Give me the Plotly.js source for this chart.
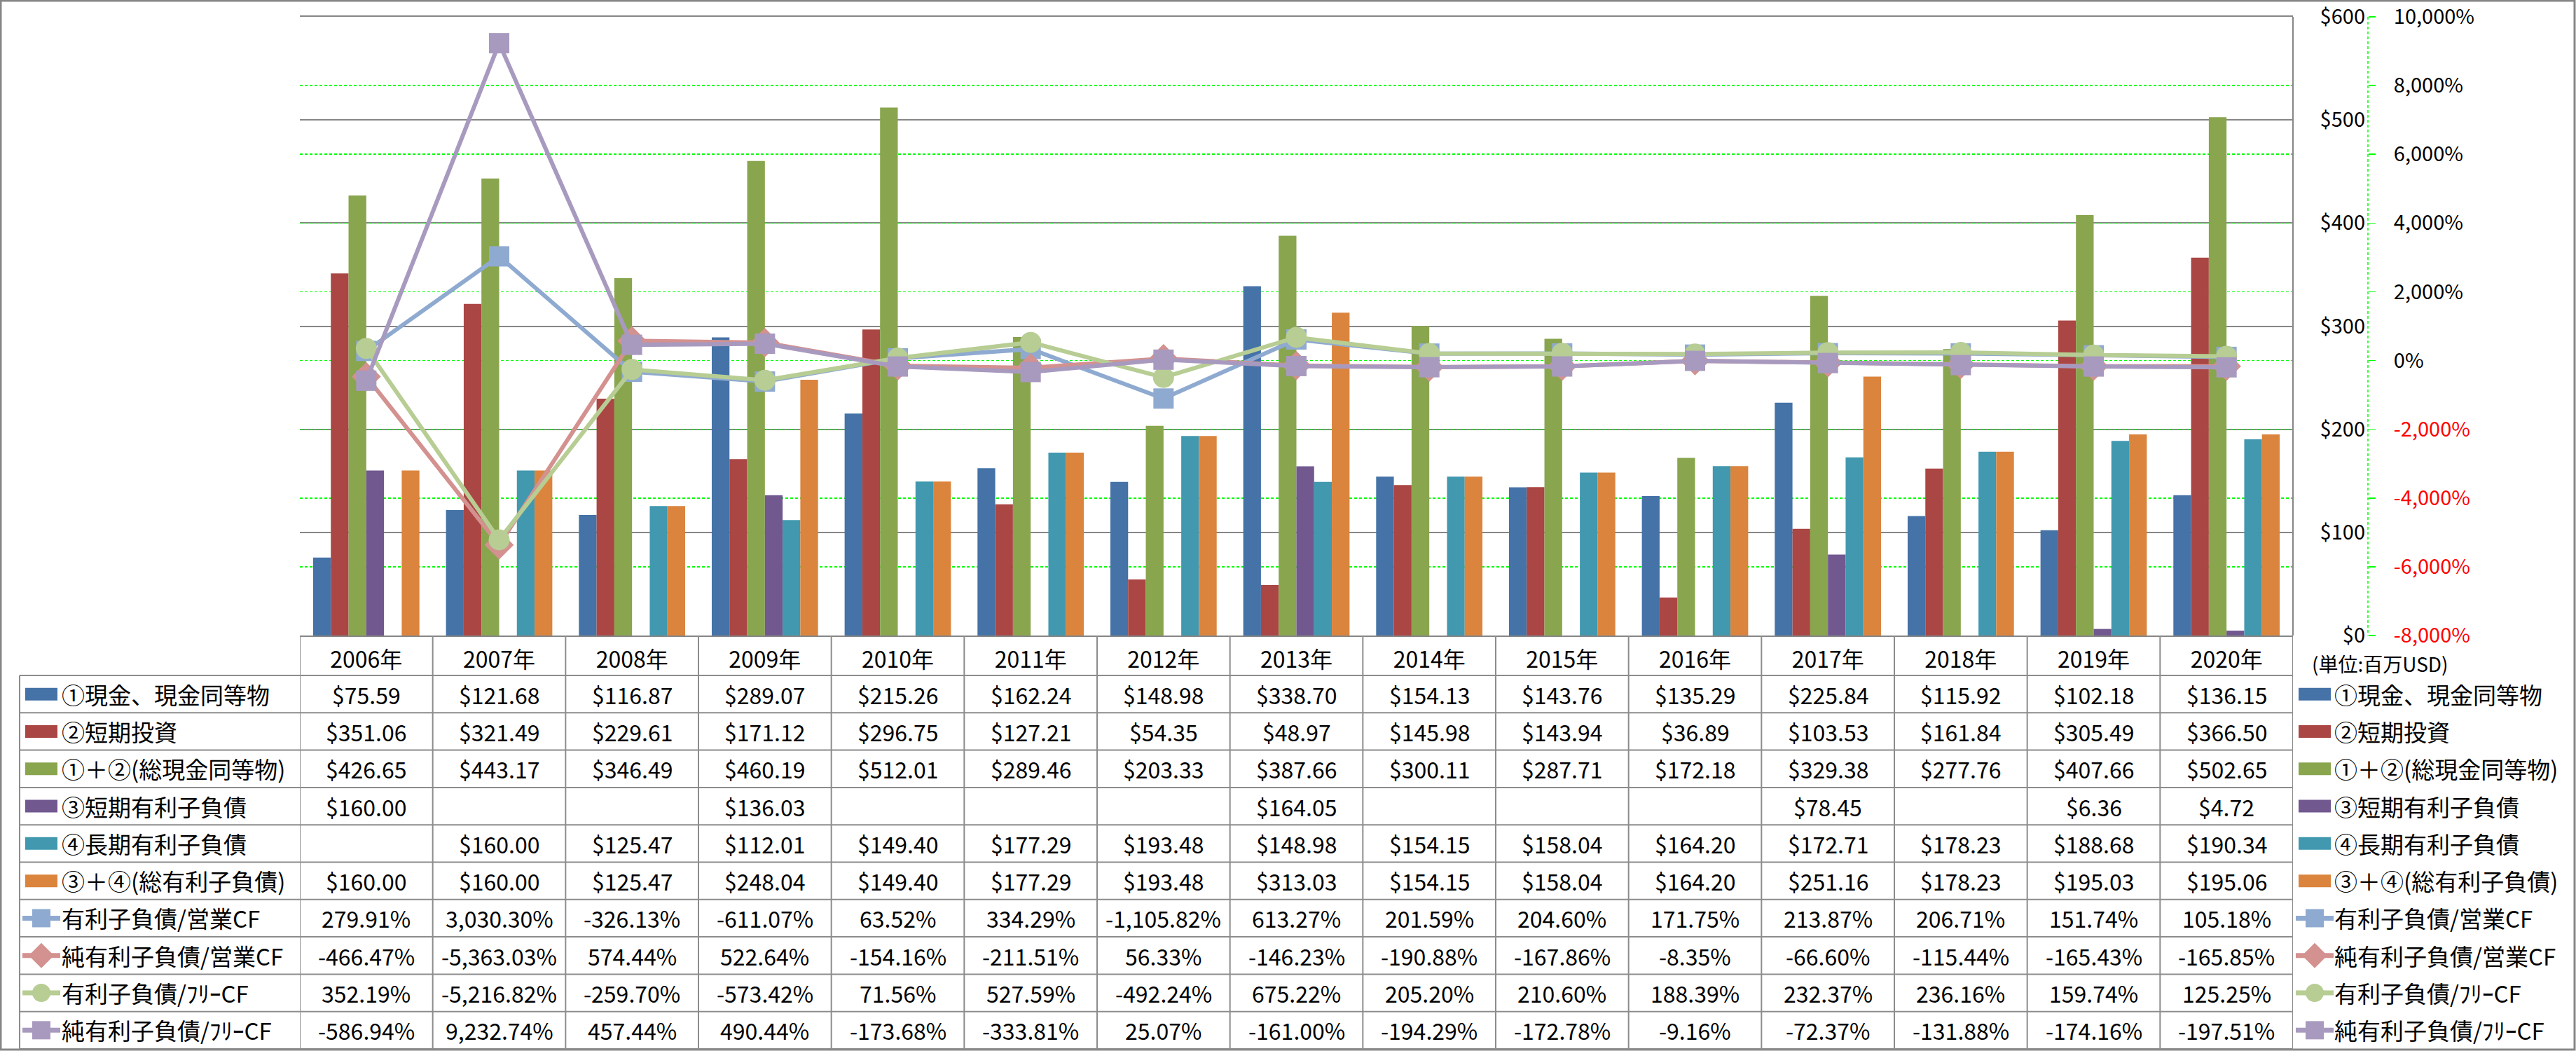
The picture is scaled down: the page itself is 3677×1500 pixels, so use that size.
<!DOCTYPE html>
<html><head><meta charset="utf-8">
<script src="https://cdn.plot.ly/plotly-3.0.1.min.js"></script>
<style>html,body{margin:0;padding:0;background:#fff}</style>
</head><body><div id="chart" style="width:3677px;height:1500px"></div>
<script>
// ---------------- DATA ----------------
const years = ['2006年','2007年','2008年','2009年','2010年','2011年','2012年','2013年','2014年','2015年','2016年','2017年','2018年','2019年','2020年'];
const cash       = [75.59,121.68,116.87,289.07,215.26,162.24,148.98,338.70,154.13,143.76,135.29,225.84,115.92,102.18,136.15];
const stInvest   = [351.06,321.49,229.61,171.12,296.75,127.21,54.35,48.97,145.98,143.94,36.89,103.53,161.84,305.49,366.50];
const totalCash  = [426.65,443.17,346.49,460.19,512.01,289.46,203.33,387.66,300.11,287.71,172.18,329.38,277.76,407.66,502.65];
const stDebt     = [160.00,null,null,136.03,null,null,null,164.05,null,null,null,78.45,null,6.36,4.72];
const ltDebt     = [null,160.00,125.47,112.01,149.40,177.29,193.48,148.98,154.15,158.04,164.20,172.71,178.23,188.68,190.34];
const totalDebt  = [160.00,160.00,125.47,248.04,149.40,177.29,193.48,313.03,154.15,158.04,164.20,251.16,178.23,195.03,195.06];
const debtOpCF    = [279.91,3030.30,-326.13,-611.07,63.52,334.29,-1105.82,613.27,201.59,204.60,171.75,213.87,206.71,151.74,105.18];
const netDebtOpCF = [-466.47,-5363.03,574.44,522.64,-154.16,-211.51,56.33,-146.23,-190.88,-167.86,-8.35,-66.60,-115.44,-165.43,-165.85];
const debtFCF     = [352.19,-5216.82,-259.70,-573.42,71.56,527.59,-492.24,675.22,205.20,210.60,188.39,232.37,236.16,159.74,125.25];
const netDebtFCF  = [-586.94,9232.74,457.44,490.44,-173.68,-333.81,25.07,-161.00,-194.29,-172.78,-9.16,-72.37,-131.88,-174.16,-197.51];

const barNames  = ['①現金、現金同等物','②短期投資','①＋②(総現金同等物)','③短期有利子負債','④長期有利子負債','③＋④(総有利子負債)'];
const lineNames = ['有利子負債/営業CF','純有利子負債/営業CF','有利子負債/ﾌﾘｰCF','純有利子負債/ﾌﾘｰCF'];
const moneyTicks = [0,100,200,300,400,500,600];
const pctTicks   = [-8000,-6000,-4000,-2000,0,2000,4000,6000,8000,10000];
const unitLabel  = '(単位:百万USD)';

// ---------------- STYLE / GEOMETRY ----------------
const barColors  = ['#4572A7','#AA4643','#89A54E','#71588F','#4198AF','#DB843D'];
const lineColors = ['#8FAAD0','#D3918F','#B7CD94','#A89ABF'];
const lineSymbols = ['square','diamond','circle','square'];
const lineSizes = [29,32,30,29];
const FONT = '"Noto Sans CJK JP", "Noto Sans", sans-serif';
const W = 3677, H = 1500;
const plotL = 428, plotR = 3273, plotT = 24, plotB = 907, paperR = 3600;
const axisX = 3380;
const px = v => (v - plotL) / (paperR - plotL);
const py = v => (plotB - v) / (plotB - plotT);
const tableTop = 907, headerB = 964, rowH = 53.3, tableLeft = 28;
const gray = '#8C8C8C';

const barData = [cash, stInvest, totalCash, stDebt, ltDebt, totalDebt];
const lineData = [debtOpCF, netDebtOpCF, debtFCF, netDebtFCF];

const traces = [];
barData.forEach((d, i) => traces.push({
  type: 'bar', x: years, y: d, name: barNames[i], xaxis: 'x', yaxis: 'y',
  marker: {color: barColors[i], line: {width: 0}}, hoverinfo: 'skip', showlegend: false
}));
lineData.forEach((d, i) => traces.push({
  type: 'scatter', mode: 'lines+markers', x: years, y: d, name: lineNames[i], xaxis: 'x', yaxis: 'y2',
  line: {color: lineColors[i], width: 6},
  marker: {color: lineColors[i], symbol: lineSymbols[i], size: lineSizes[i], line: {width: 0}},
  hoverinfo: 'skip', showlegend: false, cliponaxis: false
}));

const fmtMoney = v => (v === null || v === undefined) ? '' : '$' + v.toFixed(2);
const fmtPct = v => v.toLocaleString('en-US', {minimumFractionDigits: 2, maximumFractionDigits: 2}) + '%';
const fmtTick = v => v.toLocaleString('en-US') + '%';

const shapes = [];
const annotations = [];

// outer border
shapes.push({type: 'rect', xref: 'paper', yref: 'paper', x0: px(1), x1: px(3675), y0: py(1), y1: py(1498),
  line: {color: '#868686', width: 3}, layer: 'above'});
// right border of plot area
shapes.push({type: 'line', xref: 'paper', yref: 'paper', x0: px(plotR), x1: px(plotR), y0: py(plotT), y1: py(plotB),
  line: {color: '#868686', width: 2}});
// dashed green secondary axis line
shapes.push({type: 'line', xref: 'paper', yref: 'paper', x0: px(axisX), x1: px(axisX), y0: py(plotT), y1: py(plotB),
  line: {color: '#00FF00', width: 1.5, dash: '4px,3px'}});

// table horizontal lines
for (let k = 0; k <= 10; k++) {
  const y = headerB + k * rowH;
  shapes.push({type: 'line', xref: 'paper', yref: 'paper', x0: px(tableLeft), x1: px(plotR), y0: py(y), y1: py(y),
    line: {color: gray, width: 2}});
}
// table vertical lines (category boundaries)
for (let k = 0; k <= years.length; k++) {
  shapes.push({type: 'line', xref: 'x', yref: 'paper', x0: k - 0.5, x1: k - 0.5, y0: py(tableTop), y1: py(headerB + 10 * rowH),
    line: {color: gray, width: 2}});
}
shapes.push({type: 'line', xref: 'paper', yref: 'paper', x0: px(tableLeft), x1: px(tableLeft), y0: py(headerB), y1: py(headerB + 10 * rowH),
  line: {color: gray, width: 2}});

// table cells
const rows = [cash, stInvest, totalCash, stDebt, ltDebt, totalDebt, debtOpCF, netDebtOpCF, debtFCF, netDebtFCF];
rows.forEach((r, ri) => {
  const yc = headerB + rowH * (ri + 0.5);
  r.forEach((v, ci) => {
    const t = ri < 6 ? fmtMoney(v) : fmtPct(v);
    if (t) annotations.push({xref: 'x', yref: 'paper', x: years[ci], y: py(yc), text: t, showarrow: false,
      xanchor: 'center', yanchor: 'middle', font: {family: FONT, size: 32, color: '#000'}});
  });
});

// legend keys + labels (left in table, right as legend)
const allNames = barNames.concat(lineNames);
function addKey(i, x0, yc) {
  if (i < 6) {
    shapes.push({type: 'rect', xref: 'paper', yref: 'paper', x0: px(x0 + 4), x1: px(x0 + 50), y0: py(yc - 9), y1: py(yc + 9),
      fillcolor: barColors[i], line: {width: 0}, layer: 'above'});
  } else {
    const li = i - 6, c = lineColors[li], cx = x0 + 27;
    shapes.push({type: 'line', xref: 'paper', yref: 'paper', x0: px(x0), x1: px(x0 + 54), y0: py(yc), y1: py(yc),
      line: {color: c, width: 7}, layer: 'above'});
    const s = 13;
    if (lineSymbols[li] === 'square') {
      shapes.push({type: 'rect', xref: 'paper', yref: 'paper', x0: px(cx - s), x1: px(cx + s), y0: py(yc - s), y1: py(yc + s),
        fillcolor: c, line: {width: 0}, layer: 'above'});
    } else if (lineSymbols[li] === 'circle') {
      shapes.push({type: 'circle', xref: 'paper', yref: 'paper', x0: px(cx - s), x1: px(cx + s), y0: py(yc - s), y1: py(yc + s),
        fillcolor: c, line: {width: 0}, layer: 'above'});
    } else {
      const d = 18;
      const path = `M ${px(cx)} ${py(yc - d)} L ${px(cx + d)} ${py(yc)} L ${px(cx)} ${py(yc + d)} L ${px(cx - d)} ${py(yc)} Z`;
      shapes.push({type: 'path', xref: 'paper', yref: 'paper', path: path, fillcolor: c, line: {width: 0}, layer: 'above'});
    }
  }
}
allNames.forEach((n, i) => {
  const yc = headerB + rowH * (i + 0.5);
  addKey(i, 32, yc);
  annotations.push({xref: 'paper', yref: 'paper', x: px(86), y: py(yc), text: n, showarrow: false,
    xanchor: 'left', yanchor: 'middle', font: {family: FONT, size: 33, color: '#000'}});
  addKey(i, 3277, yc);
  annotations.push({xref: 'paper', yref: 'paper', x: px(3330), y: py(yc), text: n, showarrow: false,
    xanchor: 'left', yanchor: 'middle', font: {family: FONT, size: 33, color: '#000'}});
});
annotations.push({xref: 'paper', yref: 'paper', x: px(3298), y: py(947), text: unitLabel, showarrow: false,
  xanchor: 'left', yanchor: 'middle', font: {family: FONT, size: 28, color: '#000'}});

const pctText = pctTicks.map(v => v < 0 ? `<span style="color:#FF0000">${fmtTick(v)}</span>` : fmtTick(v));

const layout = {
  width: W, height: H,
  margin: {l: plotL, r: W - paperR, t: plotT, b: H - plotB, pad: 0},
  paper_bgcolor: '#fff', plot_bgcolor: 'rgba(0,0,0,0)',
  showlegend: false,
  barmode: 'group', bargap: 0.2, bargroupgap: 0,
  font: {family: FONT, color: '#000'},
  xaxis: {type: 'category', domain: [0, px(plotR)], anchor: 'y', categoryorder: 'array', categoryarray: years,
    range: [-0.5, years.length - 0.5], autorange: false,
    showline: true, mirror: true, linecolor: '#868686', linewidth: 2, ticks: '', showgrid: false, zeroline: false,
    tickfont: {family: FONT, size: 32, color: '#000'}, ticklabelstandoff: 6, ticklabeloverflow: 'allow', fixedrange: true},
  yaxis: {range: [0, 600], autorange: false, tickvals: moneyTicks, ticktext: moneyTicks.map(v => '$' + v), anchor: 'free', position: px(axisX), side: 'left',
    showgrid: true, gridcolor: '#868686', gridwidth: 2, zeroline: false, showline: false, ticks: '',
    tickfont: {family: FONT, size: 29, color: '#000'}, ticklabelstandoff: 4, ticklabeloverflow: 'allow', fixedrange: true},
  yaxis2: {range: [-8000, 10000], autorange: false, overlaying: 'y', anchor: 'free', position: px(axisX), side: 'right',
    tickvals: pctTicks, ticktext: pctText, showgrid: true, gridcolor: '#00FF00', gridwidth: 1.5, griddash: '4px,3px',
    zeroline: false, showline: false, ticks: 'outside', ticklen: 10, tickcolor: '#00FF00', tickwidth: 1.5,
    tickfont: {family: FONT, size: 29, color: '#000'}, ticklabelstandoff: 20, ticklabeloverflow: 'allow', fixedrange: true},
  shapes: shapes,
  annotations: annotations
};

Plotly.newPlot('chart', traces, layout, {displayModeBar: false, staticPlot: true});
</script>
</body></html>
